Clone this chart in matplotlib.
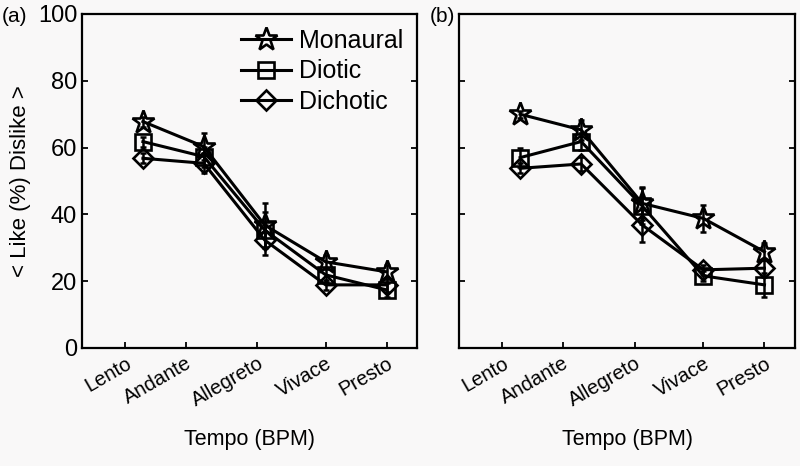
import matplotlib
matplotlib.use("Agg")
import matplotlib.pyplot as plt

plt.rcParams['font.family'] = ['Liberation Sans', 'DejaVu Sans']

tempos = ["Lento", "Andante", "Allegreto", "Vivace", "Presto"]
x_pos = [1, 2, 3, 4, 5]
tick_pos = [0.71, 1.70, 2.88, 4.0, 5.0]
series = ["Monaural", "Diotic", "Dichotic"]

# Panel (a)
a_monaural = [67.8, 60.3, 36.8, 25.8, 22.8]
a_diotic = [61.8, 57.3, 35.3, 21.9, 17.4]
a_dichotic = [56.8, 55.3, 32.3, 18.9, 18.9]
a_err_monaural = [1.5, 4.0, 6.5, 2.0, 2.0]
a_err_diotic = [1.5, 3.0, 5.5, 2.0, 2.0]
a_err_dichotic = [1.5, 3.0, 4.5, 1.5, 2.0]

# Panel (b)
b_monaural = [70.0, 65.3, 43.3, 38.8, 28.8]
b_diotic = [57.0, 61.8, 42.5, 21.6, 18.9]
b_dichotic = [53.8, 55.1, 36.8, 23.4, 23.9]
b_err_monaural = [1.0, 3.0, 5.0, 4.0, 2.5]
b_err_diotic = [2.8, 2.5, 5.5, 1.5, 3.5]
b_err_dichotic = [1.5, 2.0, 5.0, 1.5, 2.5]

markers = ['*', 's', 'D']
msizes = [17, 11.5, 10.5]
bg = '#f9f8f8'

fig = plt.figure(figsize=(8.0, 4.66), dpi=100, facecolor=bg)
W, H = 800, 466
axA = fig.add_axes([82 / W, 1 - 348 / H, 335 / W, 334 / H])
axB = fig.add_axes([459 / W, 1 - 348 / H, 336 / W, 334 / H])

panels = [
    (axA, [a_monaural, a_diotic, a_dichotic], [a_err_monaural, a_err_diotic, a_err_dichotic]),
    (axB, [b_monaural, b_diotic, b_dichotic], [b_err_monaural, b_err_diotic, b_err_dichotic]),
]

for ax, vals, errs in panels:
    ax.set_facecolor(bg)
    for name, v, e, m, ms in zip(series, vals, errs, markers, msizes):
        ax.errorbar(x_pos, v, yerr=e, fmt='none', ecolor='black',
                    elinewidth=1.8, capsize=2, capthick=1.8, zorder=2)
        ax.plot(x_pos, v, color='black', lw=2.2, marker=m, ms=ms,
                mfc='none', mec='black', mew=1.9, label=name, zorder=3)
    ax.set_xlim(0, 5.5)
    ax.set_ylim(0, 100)
    ax.set_yticks([0, 20, 40, 60, 80, 100])
    ax.set_xticks(tick_pos)
    ax.set_xticklabels(tempos, rotation=30, ha='right', va='top',
                       rotation_mode='anchor', fontsize=14.5)
    ax.tick_params(axis='both', direction='in', length=4, width=1.3,
                   labelsize=17, right=True, top=False)
    ax.tick_params(axis='x', labelsize=14.5, pad=4)
    for s in ax.spines.values():
        s.set_linewidth(1.6)
    ax.set_xlabel("Tempo (BPM)", fontsize=15.5)
    ax.xaxis.set_label_coords(0.5, -0.275)
    ax.xaxis.label.set_va('center')

axB.set_yticklabels([])
axA.set_ylabel("< Like (%) Dislike >", fontsize=16)
axA.yaxis.set_label_coords(-0.185, 0.5)
axA.yaxis.label.set_va('center')

axA.legend(loc='upper left', bbox_to_anchor=(0.475, 0.955), frameon=False,
           fontsize=18, handlelength=2.0, handletextpad=0.3, labelspacing=0.25,
           borderpad=0, borderaxespad=0)

fig.text(2 / W, 1 - 17 / H, "(a)", fontsize=15, va='center', ha='left')
fig.text(430 / W, 1 - 17 / H, "(b)", fontsize=15, va='center', ha='left')

fig.savefig("out.png", dpi=100, facecolor=bg)
